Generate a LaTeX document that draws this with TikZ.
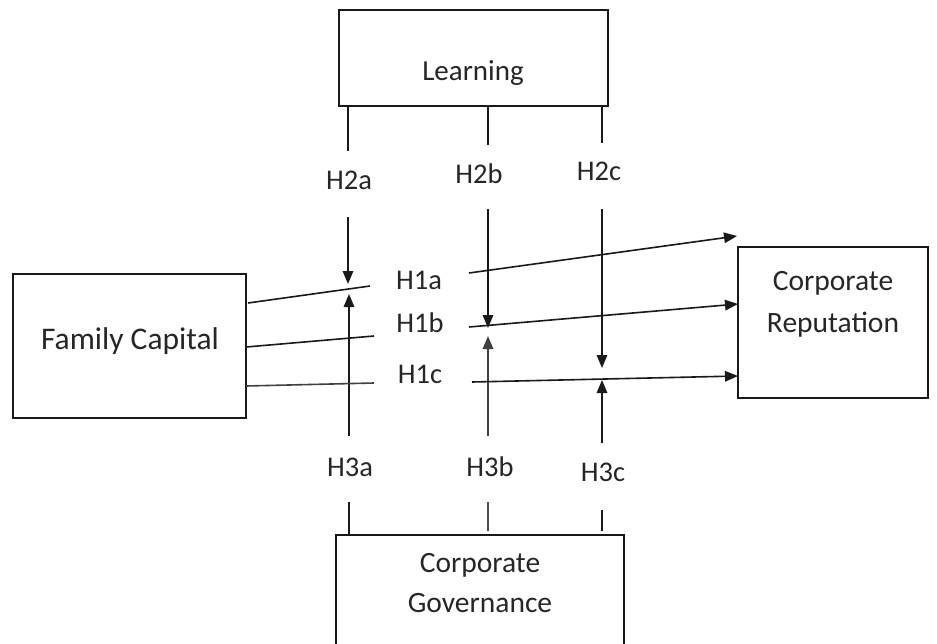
\documentclass[tikz,border=0pt]{standalone}
\usepackage{fontspec}
\setmainfont{Carlito}
\usetikzlibrary{arrows.meta}
\begin{document}
\begin{tikzpicture}[x=1pt,y=-1pt,
  box/.style={draw=black!90,line width=1.8pt,minimum width=#1},
  lbl/.style={anchor=base,inner sep=0pt,text=black!85,font=\fontsize{28.5}{32}\selectfont},
  btxt/.style={anchor=base,inner sep=0pt,text=black!85,align=center},
  conn/.style={draw=black!90,line width=1.6pt},
  arr/.style={conn,-{Triangle[length=13pt,width=10.5pt]}}]
\useasboundingbox (0,0) rectangle (937,643);
% boxes
\draw[box=0pt] (339,10) rectangle (608,106);
\draw[box=0pt] (13,274) rectangle (246,418);
\draw[box=0pt] (738,247) rectangle (928,398);
\draw[box=0pt] (336,535) rectangle (624,660);
% box texts
\node[btxt,font=\fontsize{29}{32}\selectfont] (tlearn) at (473,80) {Learning};
\node[btxt,font=\fontsize{31.5}{34}\selectfont] (tfc) at (130,349) {Family Capital};
\node[btxt,font=\fontsize{29.5}{32}\selectfont] (tcr1) at (833,290) {Corporate};
\node[btxt,font=\fontsize{29.5}{32}\selectfont] (tcr2) at (833,332) {Reputation};
\node[btxt,font=\fontsize{29.5}{32}\selectfont] (tcg1) at (480,572) {Corporate};
\node[btxt,font=\fontsize{29.5}{32}\selectfont] (tcg2) at (480,612) {Governance};
% labels
\node[lbl] (h2a) at (349,189) {H2a};
\node[lbl] (h2b) at (479,183) {H2b};
\node[lbl] (h2c) at (599,180) {H2c};
\node[lbl] (h1a) at (419,289) {H1a};
\node[lbl] (h1b) at (420,332) {H1b};
\node[lbl] (h1c) at (420,383) {H1c};
\node[lbl] (h3a) at (350,476) {H3a};
\node[lbl] (h3b) at (490,476) {H3b};
\node[lbl] (h3c) at (603,481) {H3c};
% coordinates for connector ends
\coordinate (a2s) at (348,106); \coordinate (a2e) at (348,151);
\coordinate (a2f) at (348,217); \coordinate (a2t) at (348,284);
\coordinate (b2s) at (488,106); \coordinate (b2e) at (488,145);
\coordinate (b2f) at (488,209); \coordinate (b2t) at (488,328);
\coordinate (c2s) at (602,106); \coordinate (c2e) at (602,143);
\coordinate (c2f) at (602,209); \coordinate (c2t) at (602,368);
\coordinate (a3s) at (349,535); \coordinate (a3e) at (349,502);
\coordinate (a3f) at (349,436); \coordinate (a3t) at (349,294);
\coordinate (b3s) at (488,531); \coordinate (b3e) at (488,502);
\coordinate (b3f) at (488,436); \coordinate (b3t) at (488,336);
\coordinate (c3s) at (602,531); \coordinate (c3e) at (602,510);
\coordinate (c3f) at (602,443); \coordinate (c3t) at (602,380);
\coordinate (a1s) at (248,303); \coordinate (a1e) at (370,286);
\coordinate (a1f) at (469,273); \coordinate (a1t) at (737,236);
\coordinate (b1s) at (246,347); \coordinate (b1e) at (374,336);
\coordinate (b1f) at (469,327); \coordinate (b1t) at (738,304);
\coordinate (c1s) at (246,386); \coordinate (c1e) at (374,383);
\coordinate (c1f) at (472,382); \coordinate (c1t) at (738,376);
% learning moderators
\draw[conn] (a2s) -- (a2e); \draw[arr] (a2f) -- (a2t);
\draw[conn] (b2s) -- (b2e); \draw[arr] (b2f) -- (b2t);
\draw[conn] (c2s) -- (c2e); \draw[arr] (c2f) -- (c2t);
% governance moderators
\draw[conn] (a3s) -- (a3e); \draw[arr] (a3f) -- (a3t);
\draw[conn,draw=black!70] (b3s) -- (b3e); \draw[arr,draw=black!75] (b3f) -- (b3t);
\draw[conn] (c3s) -- (c3e); \draw[arr] (c3f) -- (c3t);
% main paths
\draw[conn] (a1s) -- (a1e); \draw[arr] (a1f) -- (a1t);
\draw[conn] (b1s) -- (b1e); \draw[arr] (b1f) -- (b1t);
\draw[conn,draw=black!75] (c1s) -- (c1e); \draw[arr] (c1f) -- (c1t);
\end{tikzpicture}
\end{document}
